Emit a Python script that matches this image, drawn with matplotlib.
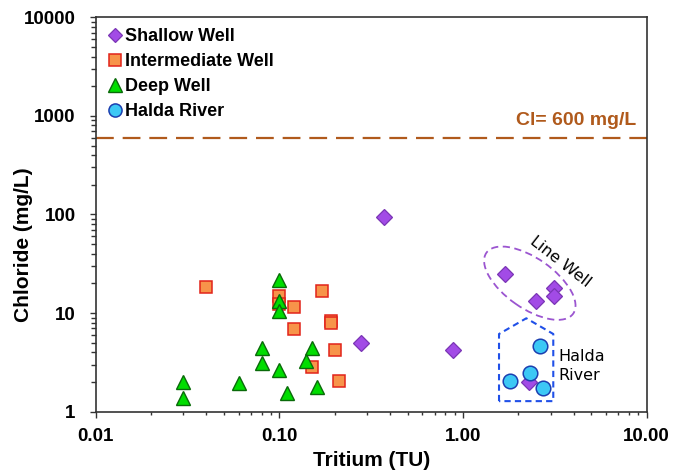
import matplotlib
matplotlib.use("Agg")
import matplotlib.pyplot as plt
from matplotlib.patches import Ellipse
from matplotlib.transforms import IdentityTransform
from matplotlib.ticker import FixedLocator, FixedFormatter, LogLocator, NullFormatter

# ---------------- data ----------------
shallow_x = [0.37, 1.69, 2.49, 3.13, 3.13, 0.28, 0.88, 2.29]
shallow_y = [95.0, 24.9, 13.4, 18.1, 14.9, 5.0, 4.2, 2.0]

inter_x = [0.040, 0.100, 0.100, 0.120, 0.171, 0.191, 0.191, 0.120, 0.201, 0.151, 0.212]
inter_y = [18.3, 15.0, 12.5, 11.6, 16.7, 8.4, 7.9, 6.85, 4.2, 2.86, 2.06]

deep_x = [0.100, 0.100, 0.100, 0.030, 0.030, 0.060, 0.080, 0.080, 0.100, 0.110, 0.150, 0.140, 0.160]
deep_y = [21.7, 13.4, 10.6, 2.02, 1.37, 1.97, 4.4, 3.1, 2.65, 1.54, 4.4, 3.29, 1.77]

river_x = [2.62, 1.81, 2.32, 2.71]
river_y = [4.67, 2.05, 2.49, 1.73]

series_labels = ["Shallow Well", "Intermediate Well", "Deep Well", "Halda River"]

x_ticks = [0.01, 0.1, 1, 10]
x_ticklabels = ["0.01", "0.10", "1.00", "10.00"]
y_ticks = [1, 10, 100, 1000, 10000]
y_ticklabels = ["1", "10", "100", "1000", "10000"]

cl_limit = 600

# ---------------- figure ----------------
W, H = 678, 473
fig = plt.figure(figsize=(W / 100, H / 100), dpi=100)
ax = fig.add_axes([95.7 / W, 1 - 411.7 / H, (646.7 - 95.7) / W, (411.7 - 17.3) / H])
ax.set_xscale("log")
ax.set_yscale("log")
ax.set_xlim(0.01, 10)
ax.set_ylim(1, 10000)

bold = dict(family="Liberation Sans", weight="bold")

# threshold line
ax.axhline(cl_limit, color="#B05A1C", lw=1.6, dashes=(8, 4), zorder=1)
ax.text(8.73, 894, "Cl= 600 mg/L", color="#B05A1C", fontsize=14, ha="right", va="center", **bold)

ax.plot(shallow_x, shallow_y, ls="none", marker="D", ms=8, mfc="#A24BE6", mec="#7A35B5", mew=0.9,
        label=series_labels[0], zorder=3)
ax.plot(inter_x, inter_y, ls="none", marker="s", ms=9.3, mfc="#F7944A", mec="#E2231A", mew=1.1,
        label=series_labels[1], zorder=3)
ax.plot(deep_x, deep_y, ls="none", marker="^", ms=10.5, mfc="#00DD00", mec="#0A6A0A", mew=1.0,
        label=series_labels[2], zorder=4)
ax.plot(river_x, river_y, ls="none", marker="o", ms=10.5, mfc="#3CC8F5", mec="#1C3FB0", mew=1.1,
        label=series_labels[3], zorder=5)

# Halda river enclosure (pentagon) in data coords
px = [1.57, 1.57, 2.21, 3.10, 3.10, 1.57]
py = [1.28, 6.14, 8.86, 6.14, 1.28, 1.28]
ax.plot(px, py, color="#2050E8", lw=1.5, dashes=(3, 2), zorder=2)
ax.text(3.30, 2.92, "Halda\nRiver", fontsize=11.5, family="DejaVu Sans", ha="left", va="center",
        linespacing=1.35)

# Line Well ellipse
cx, cy = ax.transData.transform((2.31, 20.1))
ell = Ellipse((cx, cy), 106, 50, angle=-35, transform=IdentityTransform(), fill=False,
              ec="#9B55D0", lw=1.3, ls=(0, (4, 2.5)), zorder=2)
ax.add_patch(ell)
ax.text(3.37, 33.2, "Line Well", fontsize=11.5, family="DejaVu Sans", rotation=-38,
        ha="center", va="center", rotation_mode="anchor")

# axes styling
for s in ax.spines.values():
    s.set_color("#333333")
    s.set_linewidth(1.2)

ax.xaxis.set_major_locator(FixedLocator(x_ticks))
ax.xaxis.set_major_formatter(FixedFormatter(x_ticklabels))
ax.yaxis.set_major_locator(FixedLocator(y_ticks))
ax.yaxis.set_major_formatter(FixedFormatter(y_ticklabels))
ax.xaxis.set_minor_locator(LogLocator(base=10, subs=range(2, 10)))
ax.yaxis.set_minor_locator(LogLocator(base=10, subs=range(2, 10)))
ax.xaxis.set_minor_formatter(NullFormatter())
ax.yaxis.set_minor_formatter(NullFormatter())

ax.tick_params(axis="both", which="both", direction="out", color="#333333", width=1.0,
               top=False, right=False)
ax.tick_params(axis="x", which="major", length=4, pad=8)
ax.tick_params(axis="x", which="minor", length=2.5)
ax.tick_params(axis="y", which="major", length=4.5, pad=10)
ax.tick_params(axis="y", which="minor", length=3.5)
for lab in ax.get_xticklabels() + ax.get_yticklabels():
    lab.set_fontproperties(matplotlib.font_manager.FontProperties(family="Liberation Sans",
                                                                   weight="bold", size=13.5))

ax.set_xlabel("Tritium (TU)", fontsize=15, labelpad=4, **bold)
ax.set_ylabel("Chloride (mg/L)", fontsize=15, **bold)
ax.yaxis.set_label_coords(-0.114, 0.423)

leg = ax.legend(loc="upper left", bbox_to_anchor=(0.003, 1.005), frameon=False,
                prop=matplotlib.font_manager.FontProperties(family="Liberation Sans",
                                                            weight="bold", size=13),
                handlelength=0.6, handletextpad=0.25, labelspacing=0.45, borderpad=0.2,
                markerscale=0.9)

fig.savefig("out.png", dpi=100)
